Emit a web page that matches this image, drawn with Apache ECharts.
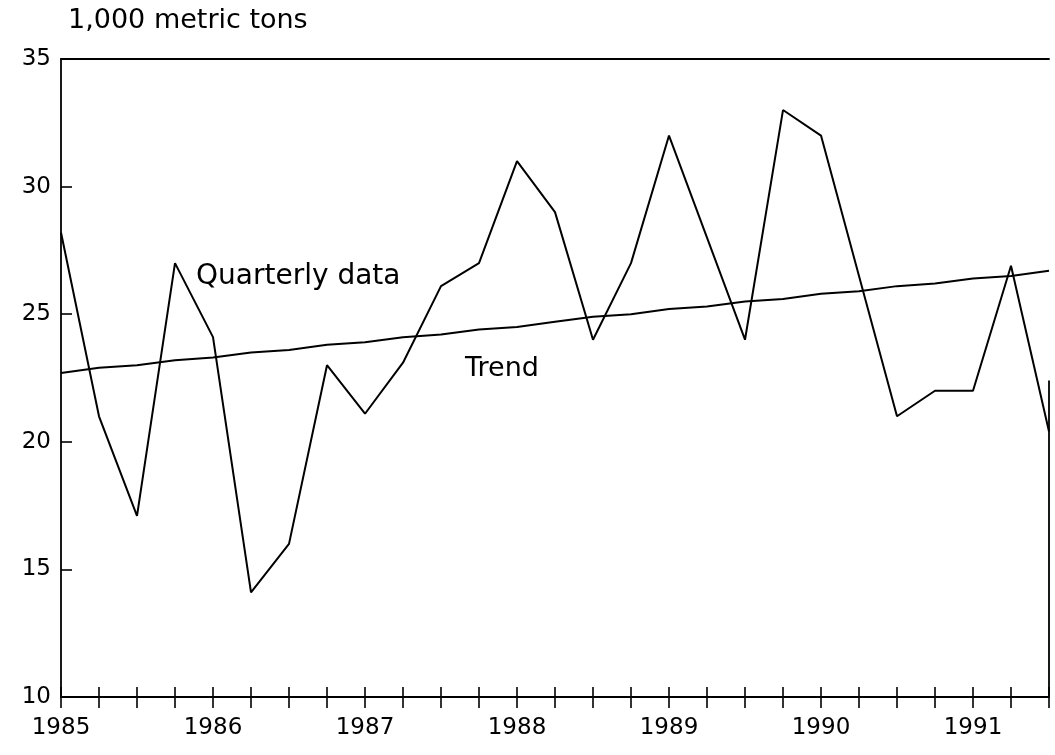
<!DOCTYPE html>
<html>
<head>
<meta charset="utf-8">
<script src="https://cdn.jsdelivr.net/npm/echarts@6/dist/echarts.min.js"></script>
<style>
  html, body { margin: 0; padding: 0; background: #ffffff; }
  #chart { width: 1055px; height: 755px; }
</style>
</head>
<body>
<div id="chart"></div>
<script>
// Quarter categories, 1985 Q1 .. 1991 Q3
const quarters = [
  "1985 Q1","1985 Q2","1985 Q3","1985 Q4",
  "1986 Q1","1986 Q2","1986 Q3","1986 Q4",
  "1987 Q1","1987 Q2","1987 Q3","1987 Q4",
  "1988 Q1","1988 Q2","1988 Q3","1988 Q4",
  "1989 Q1","1989 Q2","1989 Q3","1989 Q4",
  "1990 Q1","1990 Q2","1990 Q3","1990 Q4",
  "1991 Q1","1991 Q2","1991 Q3"
];

// Quarterly data, 1,000 metric tons
const quarterlyData = [
  28.2, 21.0, 17.1, 27.0,
  24.1, 14.1, 16.0, 23.0,
  21.1, 23.1, 26.1, 27.0,
  31.0, 29.0, 24.0, 27.0,
  32.0, 28.0, 24.0, 33.0,
  32.0, 26.5, 21.0, 22.0,
  22.0, 26.9, 20.4
];

// Trend line
const trendData = [
  22.7, 22.9, 23.0, 23.2,
  23.3, 23.5, 23.6, 23.8,
  23.9, 24.1, 24.2, 24.4,
  24.5, 24.7, 24.9, 25.0,
  25.2, 25.3, 25.5, 25.6,
  25.8, 25.9, 26.1, 26.2,
  26.4, 26.5, 26.7
];

const yMin = 10, yMax = 35, yStep = 5;
const unitLabel = "1,000 metric tons";
const seriesLabels = ["Quarterly data", "Trend"];
const rightBorderTop = 22.4;

const FONT = '"DejaVu Sans", "Liberation Sans", sans-serif';
const INK = '#000000';

const chart = echarts.init(document.getElementById('chart'), null, { renderer: 'canvas' });

const baseX = {
  type: 'category',
  data: quarters,
  boundaryGap: false,
  splitLine: { show: false }
};

chart.setOption({
  animation: false,
  backgroundColor: '#ffffff',
  grid: { left: 61, right: 6, top: 59, bottom: 58, containLabel: false },
  xAxis: [
    Object.assign({}, baseX, {
      position: 'bottom',
      axisLine: { show: true, lineStyle: { color: INK, width: 1.8 } },
      axisTick: { show: true, interval: 0, inside: false, length: 11, lineStyle: { color: INK, width: 1.6 } },
      axisLabel: {
        show: true, interval: 3, margin: 20,
        formatter: function (v) { return v.slice(0, 4); },
        color: INK, fontSize: 23, fontFamily: FONT
      }
    }),
    Object.assign({}, baseX, {
      position: 'bottom',
      axisLine: { show: false },
      axisTick: { show: true, interval: 0, inside: true, length: 10, lineStyle: { color: INK, width: 1.6 } },
      axisLabel: { show: false }
    }),
    Object.assign({}, baseX, {
      position: 'top',
      axisLine: { show: true, lineStyle: { color: INK, width: 1.8 } },
      axisTick: { show: false },
      axisLabel: { show: false }
    })
  ],
  yAxis: {
    type: 'value',
    min: yMin, max: yMax, interval: yStep,
    axisLine: { show: true, lineStyle: { color: INK, width: 1.8 } },
    axisTick: { show: true, inside: true, length: 11, lineStyle: { color: INK, width: 1.6 } },
    axisLabel: { color: INK, fontSize: 23, fontFamily: FONT, margin: 10 },
    splitLine: { show: false }
  },
  series: [
    {
      name: seriesLabels[0],
      type: 'line',
      xAxisIndex: 0,
      data: quarterlyData,
      symbol: 'none',
      lineStyle: { color: INK, width: 2 },
      z: 3
    },
    {
      name: seriesLabels[1],
      type: 'line',
      xAxisIndex: 0,
      data: trendData,
      symbol: 'none',
      lineStyle: { color: INK, width: 2 },
      z: 3,
      markLine: {
        silent: true,
        symbol: 'none',
        label: { show: false },
        lineStyle: { color: INK, width: 1.8, type: 'solid' },
        data: [[
          { coord: [quarters[quarters.length - 1], yMin] },
          { coord: [quarters[quarters.length - 1], rightBorderTop] }
        ]]
      }
    }
  ],
  graphic: [
    {
      type: 'text', left: 68, top: 7,
      style: { text: unitLabel, fill: INK, fontSize: 27, fontFamily: FONT }
    },
    {
      type: 'text', left: 196, top: 263,
      style: { text: seriesLabels[0], fill: INK, fontSize: 28, fontFamily: FONT }
    },
    {
      type: 'text', left: 465, top: 355,
      style: { text: seriesLabels[1], fill: INK, fontSize: 27, fontFamily: FONT }
    }
  ]
});
</script>
</body>
</html>
